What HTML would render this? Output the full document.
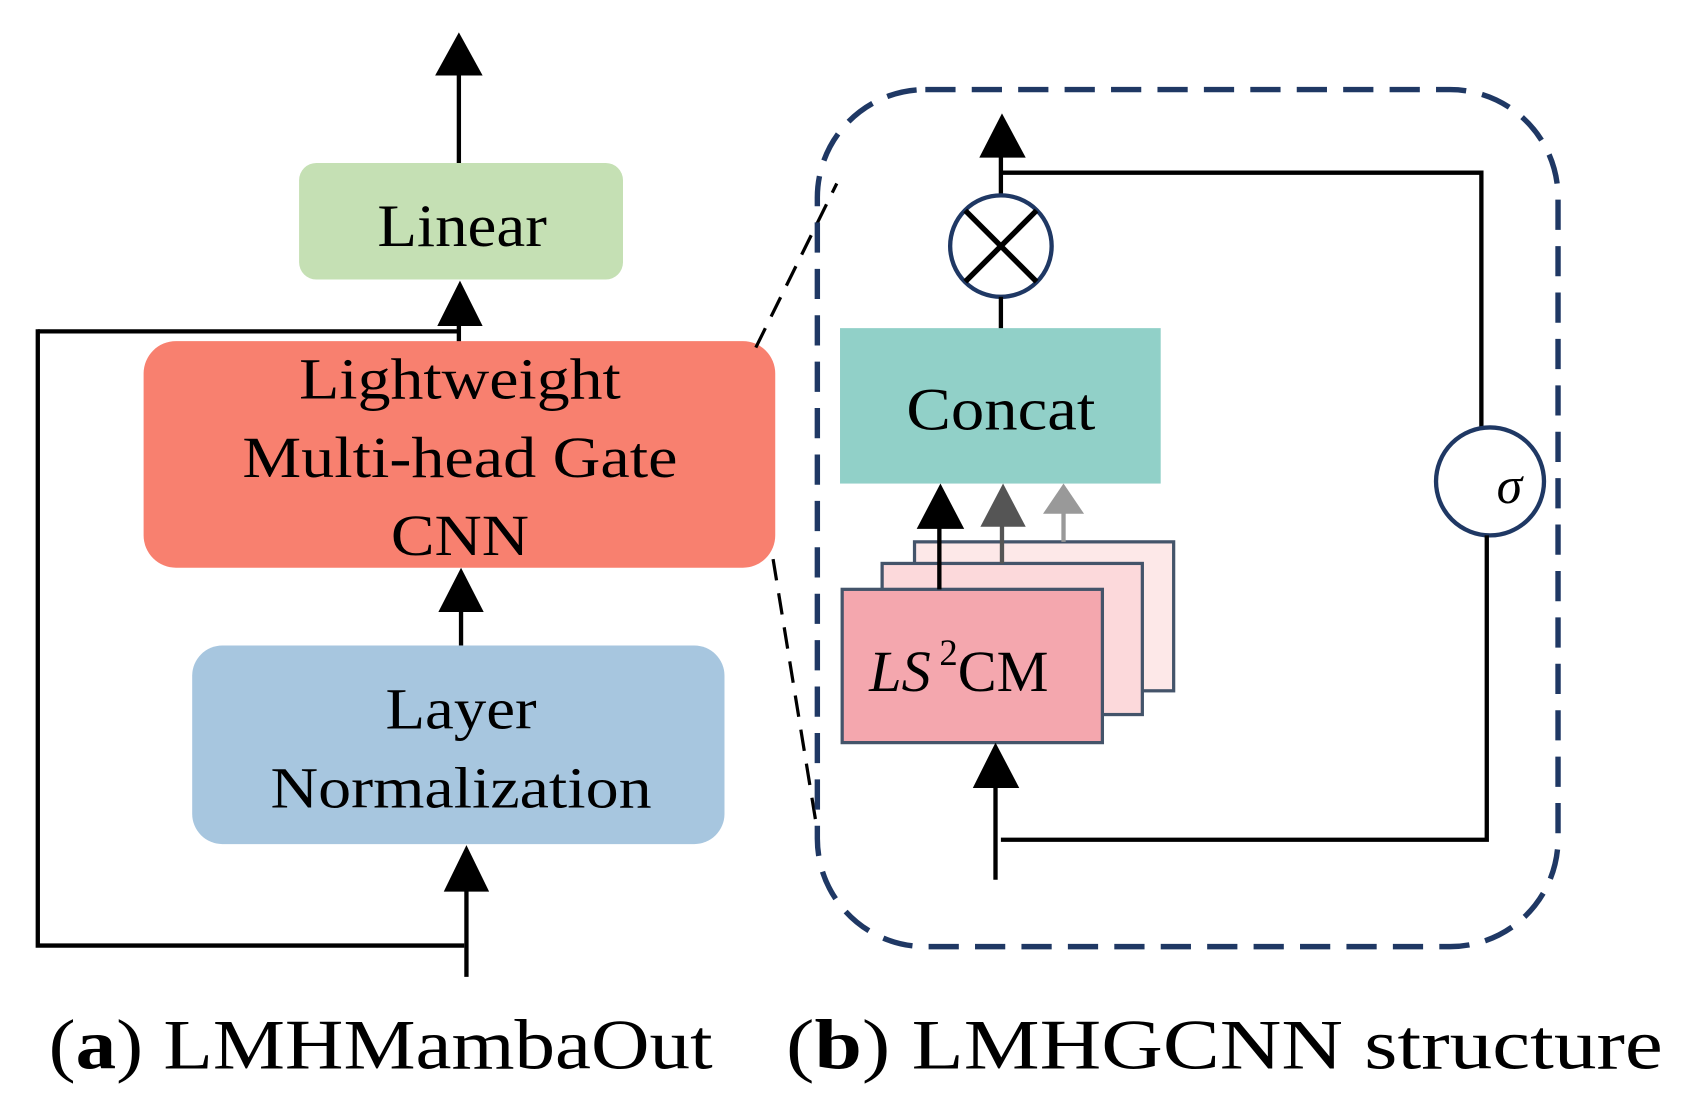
<!DOCTYPE html>
<html><head><meta charset="utf-8"><style>html,body{margin:0;padding:0;background:#fff}svg{display:block}</style></head>
<body>
<svg width="1693" height="1115" viewBox="0 0 1568 1033" preserveAspectRatio="none" xmlns="http://www.w3.org/2000/svg" font-family="'Liberation Serif', serif">
<!-- left column -->
<line x1="425" y1="60" x2="425" y2="152" stroke="#000" stroke-width="4"/>
<polygon points="403,70 447,70 425,30" fill="#000"/>
<rect x="277" y="151" width="300" height="108" rx="16" fill="#c5e0b4"/>
<text x="428" y="228" font-size="56" text-anchor="middle" textLength="157" lengthAdjust="spacingAndGlyphs">Linear</text>
<polyline points="35,307 425,307" fill="none" stroke="#000" stroke-width="4"/>
<line x1="425" y1="290" x2="425" y2="318" stroke="#000" stroke-width="4"/>
<polygon points="405,302 447,302 426,260" fill="#000"/>
<polyline points="35,305 35,876 430,876" fill="none" stroke="#000" stroke-width="4"/>
<rect x="133" y="316" width="585" height="210" rx="30" fill="#f8806f"/>
<text x="426" y="369" font-size="54" text-anchor="middle" textLength="298" lengthAdjust="spacingAndGlyphs">Lightweight</text>
<text x="426" y="442" font-size="54" text-anchor="middle" textLength="403" lengthAdjust="spacingAndGlyphs">Multi-head Gate</text>
<text x="426" y="514" font-size="54" text-anchor="middle" textLength="128" lengthAdjust="spacingAndGlyphs">CNN</text>
<line x1="427" y1="560" x2="427" y2="598" stroke="#000" stroke-width="4"/>
<polygon points="406,567 448,567 427,526" fill="#000"/>
<rect x="178" y="598" width="493" height="184" rx="28" fill="#a7c6df"/>
<text x="427" y="675" font-size="54" text-anchor="middle" textLength="140" lengthAdjust="spacingAndGlyphs">Layer</text>
<text x="427" y="748" font-size="54" text-anchor="middle" textLength="353" lengthAdjust="spacingAndGlyphs">Normalization</text>
<line x1="432" y1="815" x2="432" y2="905" stroke="#000" stroke-width="4"/>
<polygon points="411,826 453,826 432,783" fill="#000"/>
<!-- dashed connectors -->
<line x1="700" y1="322" x2="775" y2="170" stroke="#000" stroke-width="3" stroke-dasharray="20 12"/>
<line x1="716" y1="518" x2="757" y2="770" stroke="#000" stroke-width="3" stroke-dasharray="20 12"/>
<rect x="757" y="83" width="686" height="794" rx="100" fill="none" stroke="#1f3864" stroke-width="5" stroke-dasharray="28 15"/>
<!-- right -->
<polyline points="927,160 1372,160 1372,397" fill="none" stroke="#000" stroke-width="4"/>
<line x1="927" y1="140" x2="927" y2="180" stroke="#000" stroke-width="4"/>
<polygon points="907,146 950,146 928,105" fill="#000"/>
<circle cx="927" cy="228" r="47" fill="#fff" stroke="#1f3864" stroke-width="4"/>
<line x1="894" y1="195" x2="960" y2="261" stroke="#000" stroke-width="5"/>
<line x1="960" y1="195" x2="894" y2="261" stroke="#000" stroke-width="5"/>
<line x1="927" y1="275" x2="927" y2="305" stroke="#000" stroke-width="4"/>
<rect x="778" y="304" width="297" height="144" fill="#91d0c8"/>
<text x="927" y="398" font-size="56" text-anchor="middle" textLength="175" lengthAdjust="spacingAndGlyphs">Concat</text>
<circle cx="1380" cy="446" r="50" fill="#fff" stroke="#1f3864" stroke-width="4"/>
<text x="1398" y="466" font-size="48" font-style="italic" text-anchor="middle">σ</text>
<polyline points="1377,496 1377,778 927,778" fill="none" stroke="#000" stroke-width="4"/>
<rect x="847" y="502" width="240" height="138" fill="#fde8e8" stroke="#44546a" stroke-width="3"/>
<rect x="817" y="522" width="241" height="140" fill="#fcd9db" stroke="#44546a" stroke-width="3"/>
<rect x="780" y="546" width="241" height="142" fill="#f4a7ae" stroke="#44546a" stroke-width="3"/>
<text x="805" y="640" font-size="54"><tspan font-style="italic">LS</tspan><tspan font-size="34" dy="-24" dx="8">2</tspan><tspan dy="24">CM</tspan></text>
<line x1="985" y1="475" x2="985" y2="502" stroke="#999" stroke-width="4"/>
<polygon points="966,476 1004,476 985,448" fill="#999"/>
<line x1="928" y1="475" x2="928" y2="522" stroke="#555" stroke-width="4"/>
<polygon points="908,488 950,488 929,448" fill="#555"/>
<line x1="870" y1="475" x2="870" y2="546" stroke="#000" stroke-width="4"/>
<polygon points="849,490 893,490 871,448" fill="#000"/>
<line x1="922" y1="720" x2="922" y2="815" stroke="#000" stroke-width="4"/>
<polygon points="901,730 944,730 922,688" fill="#000"/>
<!-- captions -->
<text x="45" y="990" font-size="66" textLength="615" lengthAdjust="spacingAndGlyphs">(<tspan font-weight="bold">a</tspan>) LMHMambaOut</text>
<text x="728" y="990" font-size="66" textLength="812" lengthAdjust="spacingAndGlyphs">(<tspan font-weight="bold">b</tspan>) LMHGCNN structure</text>
</svg>
</body></html>
